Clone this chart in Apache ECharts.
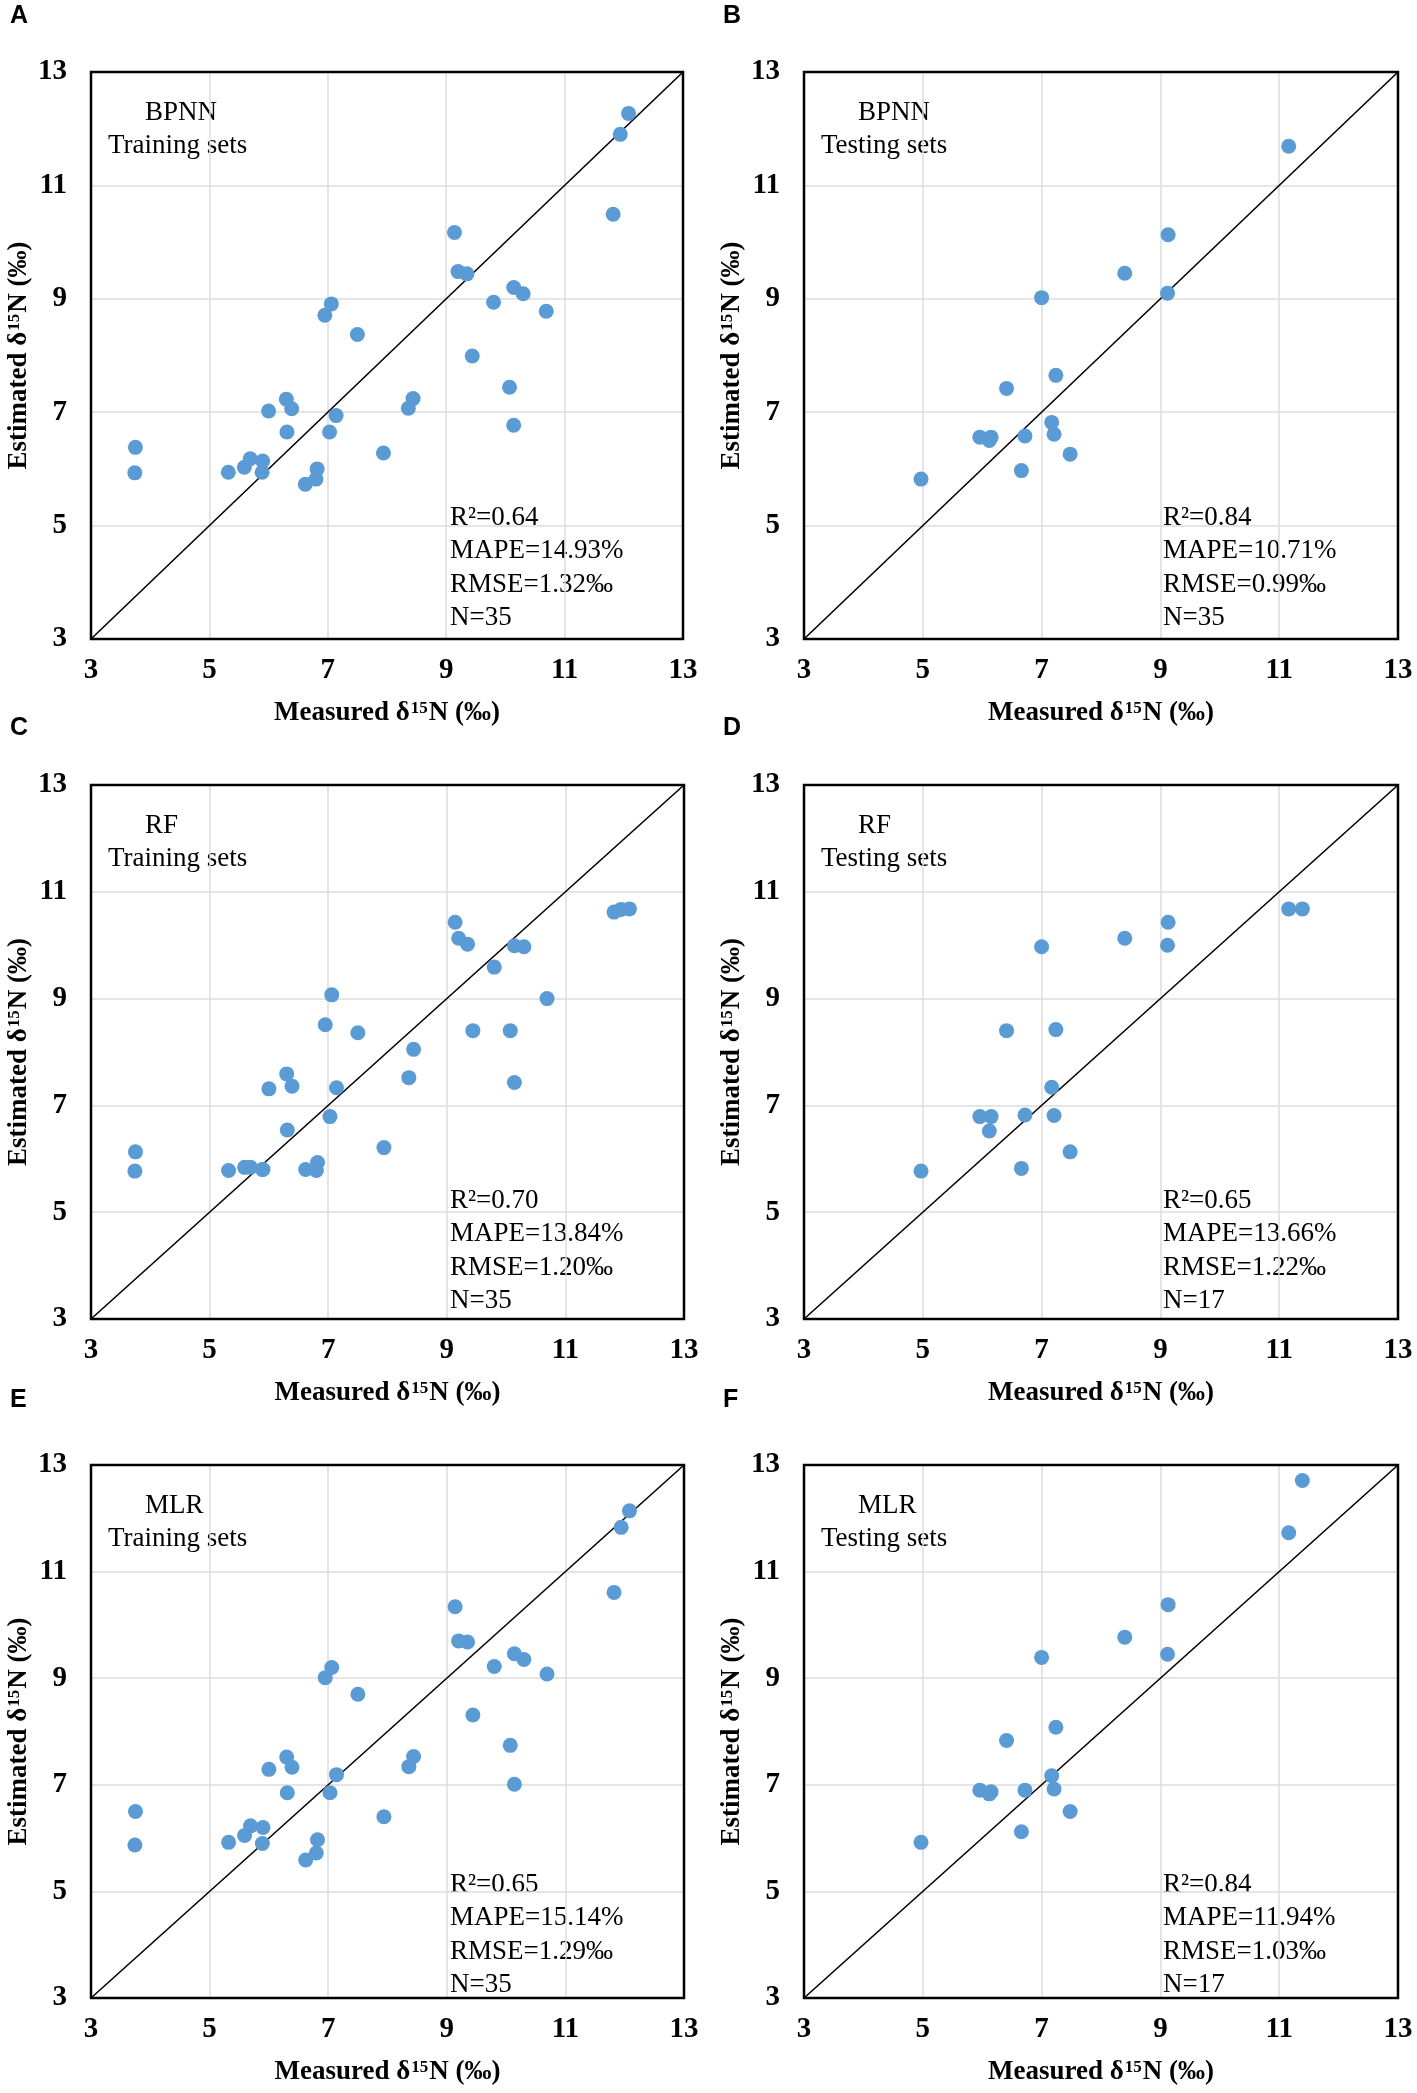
<!DOCTYPE html>
<html>
<head>
<meta charset="utf-8">
<script src="https://cdn.jsdelivr.net/npm/echarts@6/dist/echarts.min.js"></script>
<style>
html,body{margin:0;padding:0;background:#fff;}
#chart{width:1417px;height:2093px;}
</style>
</head>
<body>
<div id="chart"></div>
<script>
// ---------------- DATA ----------------
const axisMin = 3;
const axisMax = 13;
const axisStep = 2;

// Training sets (N=35): measured δ15N
const trainMeasured = [12.08, 11.94, 11.82, 9.14, 9.20, 9.35, 10.14, 10.30, 9.80, 10.69,
  7.06, 6.95, 7.50, 9.44, 10.07, 10.14, 8.44, 8.36, 6.30, 6.39,
  6.00, 7.14, 6.31, 7.03, 7.94, 3.75, 3.74, 5.32, 5.59, 5.69,
  5.90, 5.89, 6.82, 6.80, 6.62];
const bpnnTrain = [12.27, 11.90, 10.49, 10.17, 9.48, 9.44, 9.20, 9.09, 8.94, 8.78,
  8.91, 8.71, 8.37, 7.99, 7.44, 6.77, 7.24, 7.07, 7.23, 7.06,
  7.02, 6.94, 6.65, 6.65, 6.28, 6.38, 5.93, 5.94, 6.03, 6.18,
  6.14, 5.94, 6.00, 5.82, 5.73];
const rfTrain = [10.68, 10.67, 10.62, 10.43, 10.13, 10.02, 9.99, 9.97, 9.59, 9.00,
  9.07, 8.51, 8.36, 8.40, 8.40, 7.43, 8.05, 7.52, 7.59, 7.36,
  7.31, 7.33, 6.54, 6.79, 6.21, 6.13, 5.77, 5.78, 5.84, 5.84,
  5.80, 5.80, 5.93, 5.78, 5.80];
const mlrTrain = [12.14, 11.83, 10.61, 10.34, 9.70, 9.68, 9.46, 9.35, 9.22, 9.08,
  9.20, 9.01, 8.70, 8.31, 7.74, 7.01, 7.53, 7.34, 7.52, 7.33,
  7.29, 7.19, 6.85, 6.85, 6.40, 6.50, 5.87, 5.92, 6.05, 6.23,
  6.20, 5.90, 5.97, 5.72, 5.59];

// Testing sets (N=17): measured δ15N
const testMeasured = [11.16, 11.39, 9.13, 8.40, 9.12, 7.00, 6.41, 7.24, 7.17, 7.21,
  5.96, 6.15, 6.12, 6.72, 7.48, 6.66, 4.97];
const bpnnTest = [11.69, null, 10.13, 9.45, 9.10, 9.02, 7.42, 7.65, 6.82, 6.61,
  6.56, 6.56, 6.50, 6.58, 6.26, 5.97, 5.82];
const rfTest = [10.68, 10.68, 10.43, 10.13, 10.00, 9.97, 8.40, 8.42, 7.34, 6.81,
  6.79, 6.79, 6.52, 6.82, 6.13, 5.82, 5.77];
const mlrTest = [11.73, 12.71, 10.38, 9.77, 9.45, 9.39, 7.83, 8.08, 7.17, 6.92,
  6.90, 6.87, 6.83, 6.90, 6.50, 6.12, 5.92];

const panelLetters = ['A', 'B', 'C', 'D', 'E', 'F'];
const modelNames = ['BPNN', 'BPNN', 'RF', 'RF', 'MLR', 'MLR'];
const setNames = ['Training sets', 'Testing sets', 'Training sets', 'Testing sets', 'Training sets', 'Testing sets'];
const r2Values = ['0.64', '0.84', '0.70', '0.65', '0.65', '0.84'];
const mapeValues = ['14.93%', '10.71%', '13.84%', '13.66%', '15.14%', '11.94%'];
const rmseValues = ['1.32‰', '0.99‰', '1.20‰', '1.22‰', '1.29‰', '1.03‰'];
const nValues = ['35', '35', '35', '17', '35', '17'];
const xTitle = '{t|Measured δ}{s|15}{t|N (‰)}';
const yTitle = '{t|Estimated δ}{s|15}{t|N (‰)}';

// ---------------- LAYOUT ----------------
const grids = [
  {left: 91, top: 72, width: 592, height: 567},
  {left: 804, top: 72, width: 594, height: 567},
  {left: 91, top: 785, width: 593, height: 534},
  {left: 804, top: 785, width: 594, height: 534},
  {left: 91, top: 1465, width: 593, height: 533},
  {left: 804, top: 1465, width: 594, height: 533}
];
const letterTops = [4, 4, 716, 716, 1388, 1388];
const statOffsets = [138, 138, 135, 135, 130, 130];

const pairs = [
  [trainMeasured, bpnnTrain], [testMeasured, bpnnTest],
  [trainMeasured, rfTrain], [testMeasured, rfTest],
  [trainMeasured, mlrTrain], [testMeasured, mlrTest]
];

const SERIF = '"Liberation Serif", "Times New Roman", serif';
const titleRich = {
  t: {fontFamily: SERIF, fontWeight: 'bold', fontSize: 27, color: '#000'},
  s: {fontFamily: SERIF, fontWeight: 'bold', fontSize: 17, color: '#000', verticalAlign: 'top', padding: [0, 1, 10, 1]}
};

const xAxes = [], yAxes = [], series = [], graphics = [];
grids.forEach((g, i) => {
  const common = {
    type: 'value', min: axisMin, max: axisMax, interval: axisStep, gridIndex: i,
    axisLine: {show: false}, axisTick: {show: false},
    splitLine: {show: true, showMinLine: false, showMaxLine: false, lineStyle: {color: '#dcdcdc', width: 1.5}},
    axisLabel: {fontFamily: SERIF, fontWeight: 'bold', fontSize: 29, color: '#000'},
    nameLocation: 'middle',
    nameTextStyle: {rich: titleRich}
  };
  xAxes.push(Object.assign({}, common, {
    name: xTitle, nameGap: 61,
    axisLabel: Object.assign({}, common.axisLabel, {margin: 17})
  }));
  yAxes.push(Object.assign({}, common, {
    name: yTitle, nameGap: 58, nameRotate: 90,
    axisLabel: Object.assign({}, common.axisLabel, {margin: 24})
  }));

  series.push({
    type: 'line', xAxisIndex: i, yAxisIndex: i, silent: true, symbol: 'none', z: 2,
    lineStyle: {color: '#000', width: 1.6},
    data: [[axisMin, axisMin], [axisMax, axisMax]]
  });
  const [xs, ys] = pairs[i];
  const pts = [];
  xs.forEach((x, k) => { if (ys[k] !== null) pts.push([x, ys[k]]); });
  series.push({
    type: 'scatter', xAxisIndex: i, yAxisIndex: i, symbolSize: 15, z: 3,
    itemStyle: {color: '#5B9BD5', opacity: 1},
    data: pts
  });

  graphics.push({
    type: 'text', left: g.left - 81, top: letterTops[i],
    style: {text: panelLetters[i], fontFamily: '"Liberation Sans", Arial, sans-serif', fontWeight: 'bold', fontSize: 25, fill: '#000'}
  });
  graphics.push({
    type: 'text', left: g.left + 54, top: g.top + 27,
    style: {text: modelNames[i], fontFamily: SERIF, fontSize: 27, fill: '#000'}
  });
  graphics.push({
    type: 'text', left: g.left + 17, top: g.top + 60,
    style: {text: setNames[i], fontFamily: SERIF, fontSize: 27, fill: '#000'}
  });
  graphics.push({
    type: 'text', left: g.left + 359, top: g.top + g.height - statOffsets[i],
    style: {
      text: ['R²=' + r2Values[i], 'MAPE=' + mapeValues[i], 'RMSE=' + rmseValues[i], 'N=' + nValues[i]].join('\n'),
      fontFamily: SERIF, fontSize: 27, lineHeight: 33.5, fill: '#000'
    }
  });
});

const chart = echarts.init(document.getElementById('chart'));
chart.setOption({
  animation: false,
  backgroundColor: '#fff',
  grid: grids.map(g => Object.assign({show: true, borderColor: '#000', borderWidth: 2.5, backgroundColor: 'transparent', containLabel: false, z: 10}, g)),
  xAxis: xAxes,
  yAxis: yAxes,
  series: series,
  graphic: graphics
});
</script>
</body>
</html>
